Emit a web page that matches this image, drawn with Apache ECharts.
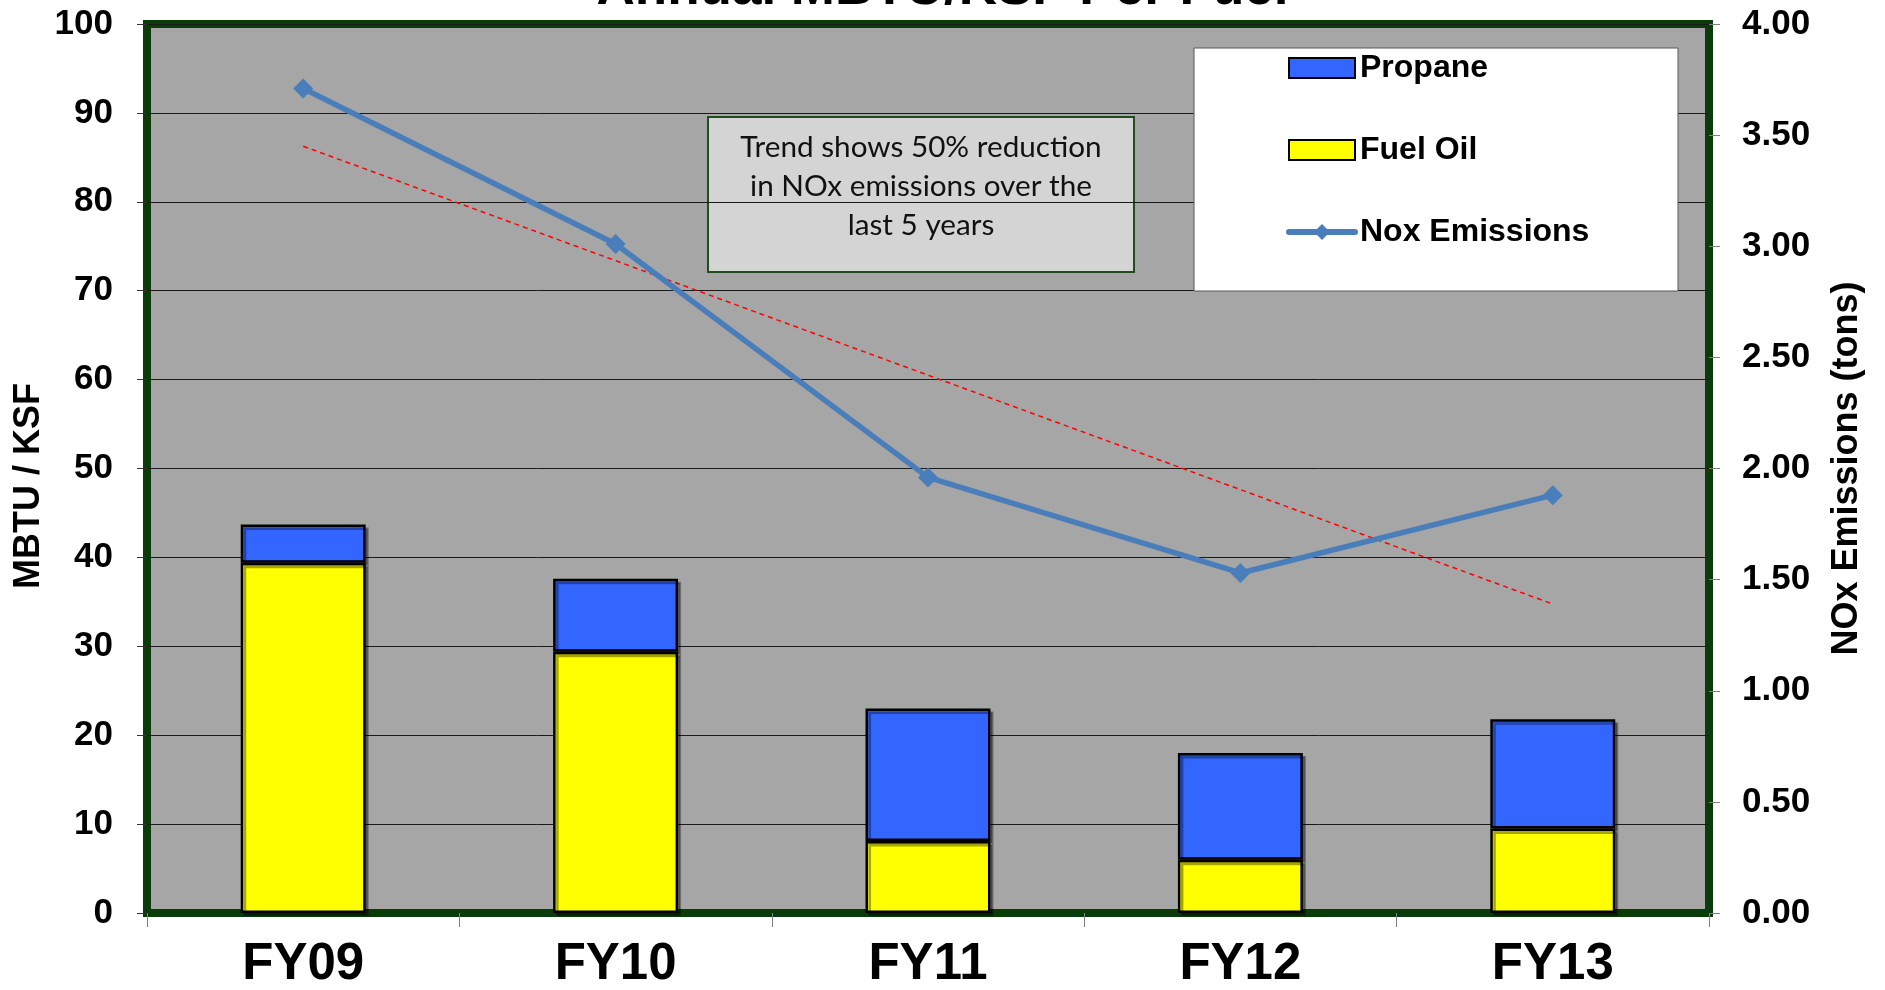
<!DOCTYPE html>
<html>
<head>
<meta charset="utf-8">
<script src="https://cdn.jsdelivr.net/npm/echarts@6/dist/echarts.min.js"></script>
<style>
html,body{margin:0;padding:0;background:#fff;}
#chart{width:1885px;height:990px;}
</style>
</head>
<body>
<div id="chart"></div>
<script>
const categories = ['FY09', 'FY10', 'FY11', 'FY12', 'FY13'];
const fuelOil = [39.4, 29.4, 8.1, 6.0, 9.5];
const propane = [4.3, 8.2, 14.9, 12.0, 12.3];
const noxEmissions = [3.71, 3.01, 1.96, 1.53, 1.88];
const noxTrend = [3.45, null, null, null, 1.39];
const leftTicks = { min: 0, max: 100, interval: 10 };
const rightTicks = { min: 0, max: 4, interval: 0.5 };
const titleText = 'Annual MBTU/KSF Per Fuel';
const leftAxisTitle = 'MBTU / KSF';
const rightAxisTitle = 'NOx Emissions (tons)';
const noteLines = ['Trend shows 50% reduction', 'in NOx emissions over the', 'last 5 years'];

const chart = echarts.init(document.getElementById('chart'));
const FONT = 'Liberation Sans, Arial, sans-serif';
const LINE_COLOR = '#4A7EBB';

const option = {
  animation: false,
  backgroundColor: '#ffffff',
  title: {
    text: titleText,
    left: 'center',
    top: -42,
    textStyle: { fontFamily: FONT, fontWeight: 'bold', fontSize: 53, color: '#000' }
  },
  grid: {
    left: 147, right: 176, top: 24, bottom: 71,
    show: true,
    backgroundColor: '#A6A6A6',
    borderColor: '#0B3A0B',
    borderWidth: 8,
    containLabel: false
  },
  legend: {
    z: 60,
    data: [
      { name: 'Propane', icon: 'rect' },
      { name: 'Fuel Oil', icon: 'rect' },
      { name: 'Nox Emissions', lineStyle: { width: 6, cap: 'round' }, itemStyle: { color: LINE_COLOR } }
    ],
    orient: 'vertical',
    left: 1286,
    top: 52,
    itemWidth: 66,
    itemHeight: 20,
    itemGap: 50,
    padding: 0,
    textStyle: { fontFamily: FONT, fontWeight: 'bold', fontSize: 32, color: '#000', lineHeight: 30 },
    selectedMode: false
  },
  xAxis: {
    type: 'category',
    data: categories,
    axisLine: { show: true, lineStyle: { color: '#0B3A0B', width: 1 } },
    axisTick: { show: true, length: 14, lineStyle: { color: '#808080', width: 1 } },
    axisLabel: { fontFamily: FONT, fontWeight: 'bold', fontSize: 51, color: '#000', margin: 26 }
  },
  yAxis: [
    {
      type: 'value',
      min: leftTicks.min, max: leftTicks.max, interval: leftTicks.interval,
      axisLine: { show: false },
      axisTick: { show: true, length: 10, lineStyle: { color: '#333' } },
      axisLabel: { fontFamily: FONT, fontWeight: 'bold', fontSize: 35, color: '#000', margin: 34 },
      splitLine: { show: true, lineStyle: { color: '#1a1a1a', width: 1 } }
    },
    {
      type: 'value',
      position: 'right',
      min: rightTicks.min, max: rightTicks.max, interval: rightTicks.interval,
      name: rightAxisTitle,
      nameLocation: 'middle',
      nameGap: 120,
      nameRotate: 90,
      nameTextStyle: { fontFamily: FONT, fontWeight: 'bold', fontSize: 36, color: '#000' },
      axisLine: { show: false },
      axisTick: { show: true, length: 11, lineStyle: { color: '#808080' } },
      axisLabel: { fontFamily: FONT, fontWeight: 'bold', fontSize: 35, color: '#000', margin: 33,
        formatter: v => v.toFixed(2) },
      splitLine: { show: false }
    }
  ],
  series: [
    {
      name: 'Fuel Oil', type: 'bar', stack: 'fuel', data: fuelOil, barWidth: '40%',
      itemStyle: { color: '#FFFF00', borderColor: '#000', borderWidth: 2.5,
        shadowColor: 'rgba(0,0,0,0.35)', shadowOffsetX: 3, shadowOffsetY: 3 }
    },
    {
      name: 'Propane', type: 'bar', stack: 'fuel', data: propane, barWidth: '40%',
      itemStyle: { color: '#3366FF', borderColor: '#000', borderWidth: 2.5,
        shadowColor: 'rgba(0,0,0,0.35)', shadowOffsetX: 3, shadowOffsetY: 3 }
    },
    {
      name: 'Nox Emissions', type: 'line', yAxisIndex: 1, data: noxEmissions,
      symbol: 'diamond', symbolSize: 20,
      lineStyle: { color: LINE_COLOR, width: 5.5, cap: 'round', join: 'round' },
      itemStyle: { color: LINE_COLOR },
      z: 5
    },
    {
      name: 'Trend', type: 'line', yAxisIndex: 1, data: noxTrend, connectNulls: true,
      symbol: 'none',
      lineStyle: { color: '#FF0000', width: 1.5, type: [5, 4] },
      z: 4
    }
  ],
  graphic: [
    {
      type: 'text', z: 50,
      x: 29, y: 486, rotation: Math.PI / 2,
      style: { text: leftAxisTitle, fontFamily: FONT, fontWeight: 'bold', fontSize: 36,
        fill: '#000', align: 'center', verticalAlign: 'middle' }
    },
    {
      type: 'rect', z: 50,
      shape: { x: 1194, y: 48, width: 484, height: 243 },
      style: { fill: '#ffffff', stroke: '#595959', lineWidth: 1 }
    },
    {
      type: 'group', z: 50,
      children: [
        {
          type: 'rect',
          shape: { x: 708, y: 117, width: 426, height: 155 },
          style: { fill: '#D4D4D4', stroke: '#1E4D1E', lineWidth: 2 }
        },
        ...noteLines.map((t, i) => ({
          type: 'text',
          x: 921, y: 147 + i * 39,
          style: { text: t, fontFamily: 'Lato, "Open Sans", sans-serif', fontSize: 29.7,
            fill: '#111', align: 'center', verticalAlign: 'middle' }
        }))
      ]
    }
  ]
};
chart.setOption(option);
</script>
</body>
</html>
